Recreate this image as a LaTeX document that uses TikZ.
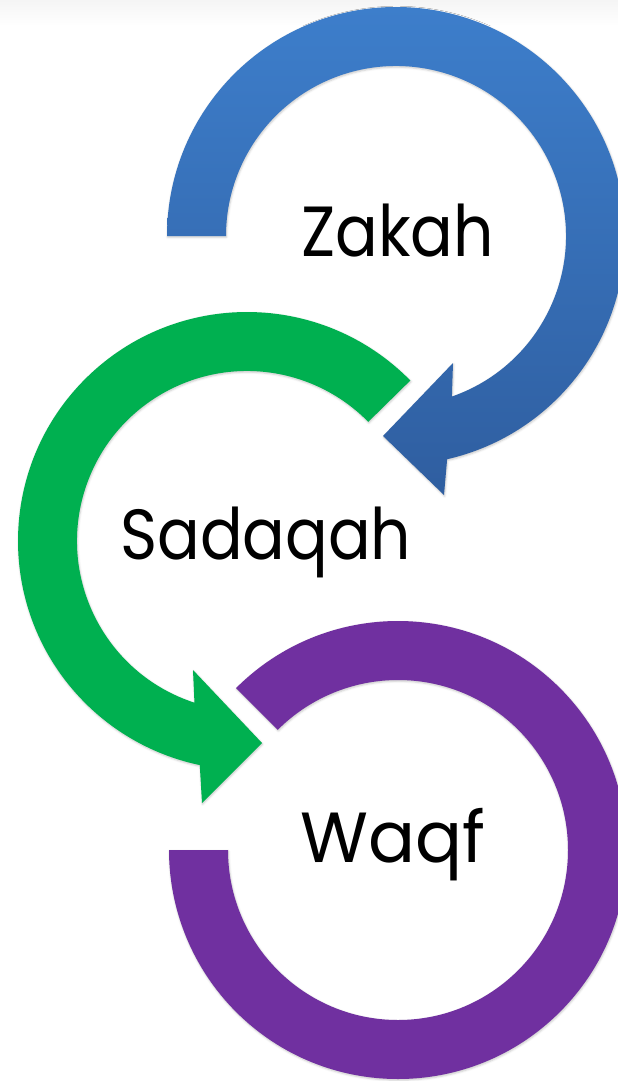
\documentclass[tikz,border=0pt]{standalone}
\usepackage{graphicx}
\usepackage{fontspec}
\setmainfont{Poppins}
\usetikzlibrary{calc,shadows.blur}

\definecolor{zakahtop}{HTML}{3D7ECB}
\definecolor{zakahbot}{HTML}{2F5EA0}
\definecolor{sadaqahgreen}{HTML}{00B050}
\definecolor{waqfpurple}{HTML}{7030A0}

% condensed setting of the large labels
\newcommand{\termtext}[2][0.89]{\scalebox{#1}[1]{#2}}

\tikzset{
  band/.style={blur shadow={shadow xshift=0.6pt, shadow yshift=-1.2pt,
      shadow blur radius=2pt, shadow opacity=22}},
  term/.style={anchor=base west, inner sep=0pt, text=black,
      font=\fontsize{71}{80}\selectfont},
}

\begin{document}
\begin{tikzpicture}[x=1pt,y=-1pt]
  \useasboundingbox (0,0) rectangle (618,1081);
  \clip (0,0) rectangle (618,1081);

  % faint grey band along the upper edge
  \shade[top color=black!4, bottom color=white] (0,0) rectangle (618,26);

  % ring centres
  \coordinate (zc) at (396,236);
  \coordinate (sc) at (247,541);
  \coordinate (wc) at (398,850);

  % arrow-head points
  \coordinate (ztip) at (383,436);
  \coordinate (zbarbin) at (453,363);
  \coordinate (zbarbout) at (444,495);
  \coordinate (stip) at (262,743);
  \coordinate (sbarbin) at (193,670);
  \coordinate (sbarbout) at (202,803);

  % Waqf: open ring, both ends cut square
  \path[band, fill=waqfpurple]
    ($(wc)+(225:229)$) arc[start angle=225, end angle=540, radius=229]
    -- ($(wc)+(540:170)$) arc[start angle=540, end angle=225, radius=170]
    -- cycle;

  % Sadaqah: curved arrow running anticlockwise into Waqf
  \path[band, fill=sadaqahgreen]
    ($(sc)+(-44.5:229)$) arc[start angle=-44.5, end angle=-258.1, radius=229]
    -- (sbarbout) -- (stip) -- (sbarbin)
    -- ($(sc)+(-252:170)$) arc[start angle=-252, end angle=-44.5, radius=170]
    -- cycle;

  % Zakah: curved arrow running clockwise into Sadaqah
  \path[band, top color=zakahtop, bottom color=zakahbot]
    ($(zc)+(180:229)$) arc[start angle=180, end angle=437.1, radius=229]
    -- (zbarbout) -- (ztip) -- (zbarbin)
    -- ($(zc)+(430.8:170)$) arc[start angle=430.8, end angle=180, radius=170]
    -- cycle;

  % labels
  \node[term] (zakah) at (301,256) {\termtext{Zakah}};
  \node[term] (sadaqah) at (120,559) {\termtext{Sadaqah}};
  \node[term] (waqf) at (300,862) {\termtext[0.98]{Waqf}};
\end{tikzpicture}
\end{document}
